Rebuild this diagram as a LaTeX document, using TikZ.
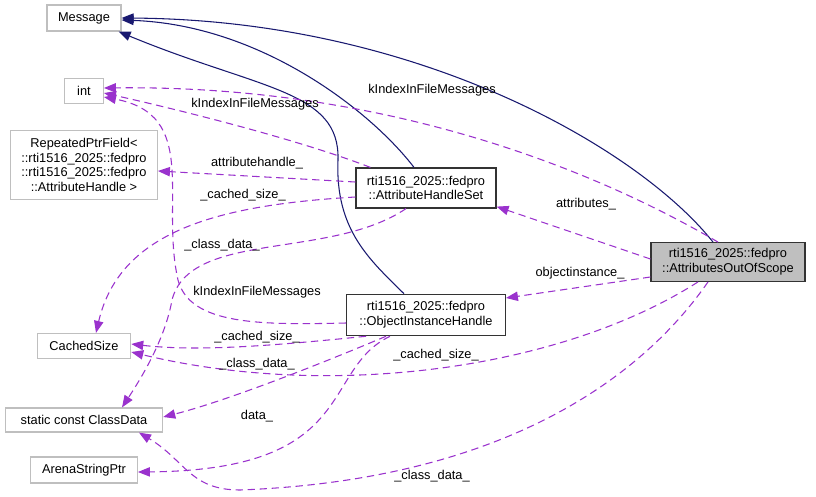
\documentclass[tikz,border=0pt]{standalone}
\usepackage{fontspec}
\setmainfont{Liberation Sans}
\usetikzlibrary{arrows.meta}
\definecolor{pur}{HTML}{9A32CD}
\definecolor{nav}{HTML}{191970}
\definecolor{gb}{HTML}{BFBFBF}
\begin{document}
\begin{tikzpicture}[x=0.75pt,y=-0.75pt,
 every node/.style={font=\fontsize{9.6}{11}\selectfont,inner sep=0pt},
 box/.style={draw=gb,line width=0.9pt,fill=white,align=center,minimum height=#1*0.75pt},
 blk/.style={draw=black!80,line width=0.9pt,fill=white,align=center},
 inh/.style={draw=nav,line width=0.8pt,-{Triangle[length=9pt,width=7pt]}},
 use/.style={draw=pur,line width=0.8pt,dash pattern=on 5.5pt off 3.5pt,-{Triangle[length=9pt,width=7pt]}}]
\useasboundingbox (0,0) rectangle (816,496);
\node[box=26,minimum width=55.5pt] (msg) at (84,18) {Message};
\node[box=25,minimum width=29pt] (int) at (84,91) {int};
\node[box=69,minimum width=110pt] (rep) at (84,165) {RepeatedPtrField<\\::rti1516\_2025::fedpro\\::rti1516\_2025::fedpro\\::AttributeHandle >};
\node[box=25,minimum width=70pt] (cs) at (84,346) {CachedSize};
\node[box=24,minimum width=118pt] (cd) at (84,420) {static const ClassData};
\node[box=26,minimum width=80pt] (asp) at (84,470) {ArenaStringPtr};
\node[blk,minimum width=105pt,minimum height=30pt] (ahs) at (426,188) {rti1516\_2025::fedpro\\::AttributeHandleSet};
\node[blk,minimum width=119pt,minimum height=31pt] (oih) at (426,315) {rti1516\_2025::fedpro\\::ObjectInstanceHandle};
\node[blk,fill=gb,minimum width=115.5pt,minimum height=29pt] (aos) at (728,262) {rti1516\_2025::fedpro\\::AttributesOutOfScope};
% inheritance
\draw[inh] ([shift={(-15,0)}]aos.north) .. controls (640,150) and (420,20) .. (msg.east);
\draw[inh] ([shift={(-12,0)}]ahs.north) .. controls (370,110) and (260,25) .. ([shift={(0,2)}]msg.east);
\draw[inh] ([shift={(-22,0)}]oih.north) .. controls (370,260) and (335,230) .. (338,160) .. controls (340,90) and (260,90) .. ([shift={(-3,0)}]msg.south east);
% usage
\draw[use] ([shift={(-10,0)}]aos.north) .. controls (560,150) and (350,85) .. ([shift={(0,-3)}]int.east);
\draw[use] ([shift={(15,0)}]ahs.north west) .. controls (300,140) and (180,110) .. ([shift={(0,2)}]int.east);
\draw[use] ([shift={(0,8)}]oih.west) .. controls (260,325) and (190,325) .. (178,280) .. controls (160,200) and (200,115) .. ([shift={(0,6)}]int.east);
\draw[use] ([shift={(0,-6)}]ahs.west) -- ([shift={(0,6)}]rep.east);
\draw[use] ([shift={(0,9)}]ahs.west) .. controls (220,205) and (120,230) .. ([shift={(12,0)}]cs.north);
\draw[use] ([shift={(-20,0)}]ahs.south) .. controls (330,260) and (190,230) .. (172,300) .. controls (165,340) and (140,380) .. ([shift={(38,0)}]cd.north);
\draw[use] ([shift={(-60,0)}]oih.south) .. controls (280,345) and (200,352) .. ([shift={(0,-2)}]cs.east);
\draw[use] ([shift={(-40,0)}]oih.south) .. controls (330,360) and (230,400) .. ([shift={(0,-3)}]cd.east);
\draw[use] ([shift={(-36,0)}]oih.south) .. controls (320,370) and (360,470) .. ([shift={(0,2)}]asp.east);
\draw[use] ([shift={(0,-3)}]aos.west) -- ([shift={(0,-2)}]ahs.south east);
\draw[use] ([shift={(0,15)}]aos.west) -- ([shift={(0,-17)}]oih.east);
\draw[use] ([shift={(-30,0)}]aos.south) .. controls (560,370) and (330,400) .. ([shift={(0,6)}]cs.east);
\draw[use] ([shift={(-20,0)}]aos.south) .. controls (640,380) and (500,480) .. (240,490) .. controls (190,490) and (185,460) .. ([shift={(55,0)}]cd.south);
% labels
\node at (432,90) {kIndexInFileMessages};
\node at (255,104) {kIndexInFileMessages};
\node at (257,292) {kIndexInFileMessages};
\node at (257,163) {attributehandle\_};
\node at (243,195) {\_cached\_size\_};
\node at (222,245) {\_class\_data\_};
\node at (257,337) {\_cached\_size\_};
\node at (257,364) {\_class\_data\_};
\node at (436,355) {\_cached\_size\_};
\node at (257,416) {data\_};
\node at (432,476) {\_class\_data\_};
\node at (586,204) {attributes\_};
\node at (580,273) {objectinstance\_};
\end{tikzpicture}
\end{document}
